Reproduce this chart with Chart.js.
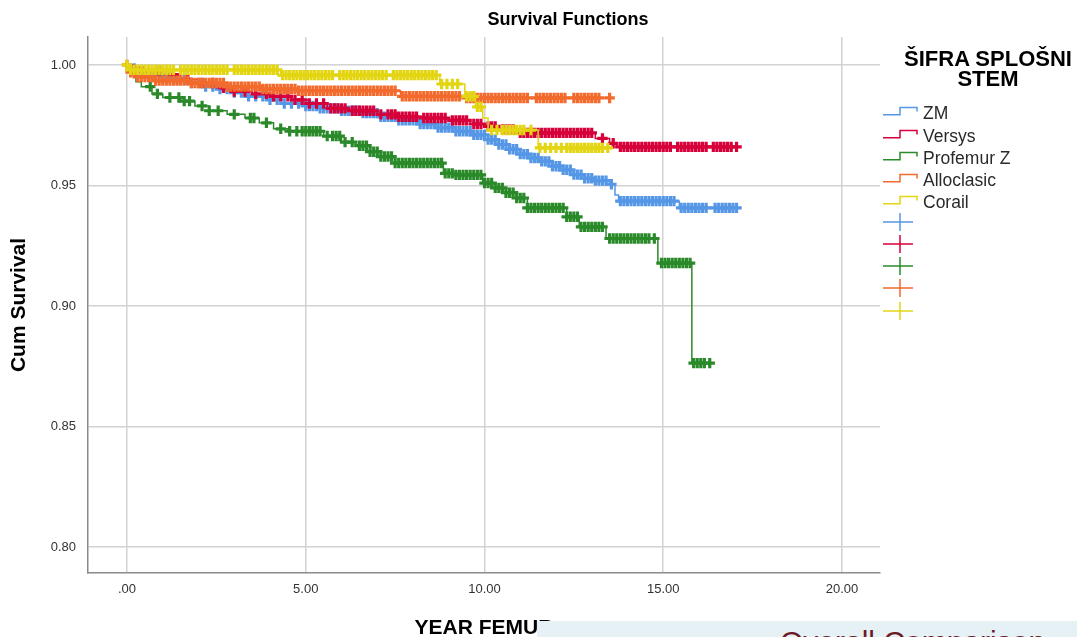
<!DOCTYPE html>
<html>
<head>
<meta charset="utf-8">
<script src="https://cdn.jsdelivr.net/npm/chart.js@4.4.1/dist/chart.umd.min.js"></script>
<style>
html,body{margin:0;padding:0;background:#fff;}
#wrap{position:relative;width:1077px;height:637px;overflow:hidden;font-family:"Liberation Sans",Arial,sans-serif;}
#chart{position:absolute;left:0;top:0;}
#legTitle{position:absolute;left:898px;top:49px;width:180px;text-align:center;font-weight:bold;font-size:22px;line-height:20px;color:#000;}
.row{position:absolute;left:883px;height:22px;width:190px;}
.row svg{position:absolute;left:0;top:0;}
.row span{position:absolute;left:40px;top:0;line-height:22px;font-size:17.5px;color:#2a2a2a;}
#overlay{position:absolute;left:537px;top:621px;width:540px;height:16px;background:#e6f1f5;overflow:hidden;}
#overlay span{position:absolute;left:243px;top:6px;font-size:30px;line-height:30px;color:#6e1a26;white-space:nowrap;}
</style>
</head>
<body>
<div id="wrap">
<canvas id="chart" width="1077" height="637"></canvas>
<div id="legTitle">ŠIFRA SPLOŠNI<br>STEM</div>
<div id="legend"></div>
<div id="overlay"><span>Overall Comparison</span></div>
</div>
<script>
// ---------- data ----------
const chartTitle = 'Survival Functions';
const xTitle = 'YEAR FEMUR';
const yTitle = 'Cum Survival';
const legendTitle = 'ŠIFRA SPLOŠNI STEM';
const groups = ['ZM', 'Versys', 'Profemur Z', 'Alloclasic', 'Corail'];
const colors = ['#5597e6', '#d6003a', '#2a8a2a', '#f26a2c', '#e3d512'];

const xTickValues = [0, 5, 10, 15, 20];
const xTickLabels = ['.00', '5.00', '10.00', '15.00', '20.00'];
const yTickValues = [0.80, 0.85, 0.90, 0.95, 1.00];
const yTickLabels = ['0.80', '0.85', '0.90', '0.95', '1.00'];

// ZM
const zmTime = [0, 0.15, 0.4, 0.7, 1.0, 1.4, 1.8, 2.2, 2.6, 3.0, 3.4, 3.9, 4.4, 4.9, 5.4, 6.0, 6.6, 7.1, 7.6, 8.2, 8.7, 9.2, 9.7, 10.1, 10.4, 10.7, 11.0, 11.3, 11.6, 11.9, 12.2, 12.5, 12.8, 13.1, 13.5, 13.65, 13.75, 15.45];
const zmSurv = [1.0, 0.9985, 0.997, 0.996, 0.995, 0.994, 0.9925, 0.991, 0.990, 0.9885, 0.987, 0.9855, 0.984, 0.983, 0.982, 0.981, 0.980, 0.9785, 0.977, 0.9755, 0.974, 0.9725, 0.971, 0.969, 0.967, 0.965, 0.963, 0.9614, 0.960, 0.958, 0.9565, 0.9545, 0.953, 0.952, 0.9505, 0.946, 0.9435, 0.9407];
const zmEnd = 17.05;
const zmCensor = [0.2, 0.4, 0.6, 0.8, 1.0, 1.2, 1.4, 1.6, 1.8, 2.0, 2.2, 2.4, 2.6, 2.8, 3.0, 3.2, 3.4, 3.6, 3.8, 4.0, 4.2, 4.4, 4.6, 4.8, 5.0, 5.1, 5.2, 5.3, 5.4, 5.5, 5.6, 5.7, 5.8, 5.9, 6.0, 6.1, 6.2, 6.3, 6.4, 6.5, 6.6, 6.7, 6.8, 6.9, 7.0, 7.1, 7.2, 7.3, 7.4, 7.5, 7.6, 7.7, 7.8, 7.9, 8.0, 8.1, 8.2, 8.3, 8.4, 8.5, 8.6, 8.7, 8.8, 8.9, 9.0, 9.1, 9.2, 9.3, 9.4, 9.5, 9.6, 9.7, 9.8, 9.9, 10.0, 10.1, 10.2, 10.3, 10.4, 10.5, 10.6, 10.7, 10.8, 10.9, 11.0, 11.1, 11.2, 11.3, 11.4, 11.5, 11.6, 11.7, 11.8, 11.9, 12.0, 12.1, 12.2, 12.3, 12.4, 12.5, 12.6, 12.7, 12.8, 12.9, 13.0, 13.1, 13.2, 13.3, 13.4, 13.55, 13.8, 13.9, 14.0, 14.1, 14.2, 14.3, 14.4, 14.5, 14.6, 14.7, 14.8, 14.9, 15.0, 15.1, 15.2, 15.3, 15.5, 15.6, 15.7, 15.8, 15.9, 16.0, 16.1, 16.2, 16.45, 16.55, 16.65, 16.75, 16.85, 16.95, 17.05];

// Versys
const vsTime = [0, 0.2, 0.5, 1.0, 1.5, 2.0, 2.5, 3.0, 3.5, 4.0, 4.6, 5.1, 5.6, 6.2, 7.0, 7.6, 8.3, 9.0, 9.6, 10.0, 10.4, 10.9, 13.1, 13.5, 13.7];
const vsSurv = [1.0, 0.999, 0.9975, 0.996, 0.994, 0.9925, 0.9905, 0.989, 0.988, 0.987, 0.9855, 0.984, 0.982, 0.981, 0.9795, 0.9785, 0.978, 0.977, 0.9755, 0.9745, 0.9732, 0.9718, 0.9695, 0.9675, 0.966];
const vsEnd = 17.05;
const vsCensor = [0.9, 1.3, 1.7, 2.1, 2.4, 2.7, 3.0, 3.3, 3.6, 3.9, 4.1, 4.3, 4.5, 4.7, 4.9, 5.1, 5.3, 5.5, 5.7, 5.8, 5.9, 6.0, 6.1, 6.3, 6.4, 6.5, 6.6, 6.7, 6.8, 6.9, 7.1, 7.3, 7.4, 7.5, 7.6, 7.7, 7.8, 7.9, 8.0, 8.1, 8.3, 8.4, 8.5, 8.6, 8.7, 8.8, 8.9, 9.1, 9.2, 9.3, 9.4, 9.5, 9.7, 9.8, 9.9, 10.1, 10.2, 10.3, 10.5, 10.6, 10.7, 10.8, 11.0, 11.1, 11.2, 11.3, 11.4, 11.5, 11.6, 11.7, 11.8, 11.9, 12.0, 12.1, 12.2, 12.3, 12.4, 12.5, 12.6, 12.7, 12.8, 12.9, 13.0, 13.3, 13.6, 13.8, 13.9, 14.0, 14.1, 14.2, 14.3, 14.4, 14.5, 14.6, 14.7, 14.8, 14.9, 15.0, 15.1, 15.2, 15.4, 15.5, 15.6, 15.7, 15.8, 15.9, 16.0, 16.1, 16.2, 16.4, 16.5, 16.6, 16.7, 16.8, 16.9, 17.05];

// Profemur Z
const pfTime = [0, 0.1, 0.25, 0.4, 0.7, 1.0, 1.5, 1.9, 2.3, 2.8, 3.3, 3.7, 4.1, 4.5, 5.5, 6.0, 6.4, 6.8, 7.1, 7.5, 8.85, 9.2, 9.95, 10.3, 10.6, 10.9, 11.2, 12.3, 12.65, 13.4, 14.85, 15.8];
const pfSurv = [1.0, 0.996, 0.993, 0.991, 0.988, 0.9865, 0.985, 0.983, 0.981, 0.9795, 0.978, 0.976, 0.9735, 0.9725, 0.9705, 0.968, 0.9665, 0.964, 0.962, 0.9593, 0.955, 0.9544, 0.951, 0.949, 0.947, 0.9448, 0.9407, 0.937, 0.9328, 0.928, 0.9178, 0.8763];
const pfEnd = 16.3;
const pfCensor = [0.65, 0.85, 1.2, 1.45, 1.6, 1.75, 2.1, 2.3, 2.55, 3.0, 3.45, 3.55, 3.9, 4.3, 4.55, 4.75, 4.9, 5.0, 5.1, 5.2, 5.3, 5.4, 5.6, 5.75, 5.85, 5.95, 6.1, 6.3, 6.5, 6.6, 6.7, 6.8, 6.9, 7.0, 7.1, 7.2, 7.3, 7.4, 7.5, 7.6, 7.7, 7.8, 7.9, 8.0, 8.1, 8.2, 8.3, 8.4, 8.5, 8.6, 8.7, 8.8, 8.9, 9.0, 9.1, 9.2, 9.3, 9.4, 9.5, 9.6, 9.7, 9.8, 9.9, 10.0, 10.1, 10.2, 10.3, 10.4, 10.5, 10.6, 10.7, 10.8, 10.9, 11.0, 11.1, 11.2, 11.3, 11.4, 11.5, 11.6, 11.7, 11.8, 11.9, 12.0, 12.1, 12.2, 12.3, 12.4, 12.5, 12.6, 12.7, 12.8, 12.9, 13.0, 13.1, 13.2, 13.3, 13.5, 13.6, 13.7, 13.8, 13.9, 14.0, 14.1, 14.2, 14.3, 14.4, 14.5, 14.6, 14.75, 14.95, 15.05, 15.15, 15.25, 15.35, 15.45, 15.55, 15.65, 15.75, 15.85, 15.95, 16.05, 16.15, 16.3];

// Alloclasic
const alTime = [0, 0.1, 0.3, 0.8, 1.8, 2.8, 3.8, 4.8, 7.65, 9.45];
const alSurv = [1.0, 0.997, 0.995, 0.9935, 0.9925, 0.991, 0.990, 0.9893, 0.987, 0.9863];
const alEnd = 13.5;
const alCensor = [0, 0.1, 0.2, 0.3, 0.4, 0.5, 0.6, 0.7, 0.8, 0.9, 1.0, 1.1, 1.2, 1.3, 1.4, 1.5, 1.6, 1.7, 1.8, 1.9, 2.0, 2.1, 2.2, 2.3, 2.4, 2.5, 2.6, 2.7, 2.8, 2.9, 3.0, 3.1, 3.2, 3.3, 3.4, 3.5, 3.6, 3.7, 3.8, 3.9, 4.0, 4.1, 4.2, 4.3, 4.4, 4.5, 4.6, 4.7, 4.8, 4.9, 5.0, 5.1, 5.2, 5.3, 5.4, 5.5, 5.6, 5.7, 5.8, 5.9, 6.0, 6.1, 6.2, 6.3, 6.4, 6.5, 6.6, 6.7, 6.8, 6.9, 7.0, 7.1, 7.2, 7.3, 7.4, 7.5, 7.7, 7.8, 7.9, 8.0, 8.1, 8.2, 8.3, 8.4, 8.5, 8.6, 8.7, 8.8, 8.9, 9.0, 9.1, 9.2, 9.3, 9.5, 9.6, 9.7, 9.8, 9.9, 10.0, 10.1, 10.2, 10.3, 10.4, 10.5, 10.6, 10.7, 10.8, 10.9, 11.0, 11.1, 11.2, 11.45, 11.55, 11.65, 11.75, 11.85, 11.95, 12.05, 12.15, 12.25, 12.5, 12.6, 12.7, 12.8, 12.9, 13.0, 13.1, 13.2, 13.5];

// Corail
const coTime = [0, 0.05, 4.3, 8.75, 9.45, 9.75, 9.95, 10.1, 11.5];
const coSurv = [1.0, 0.998, 0.9958, 0.9921, 0.987, 0.9826, 0.978, 0.973, 0.9656];
const coEnd = 13.45;
const coCensor = [0, 0.1, 0.2, 0.3, 0.4, 0.5, 0.6, 0.7, 0.8, 0.9, 1.0, 1.1, 1.2, 1.3, 1.5, 1.6, 1.7, 1.8, 1.9, 2.0, 2.1, 2.2, 2.3, 2.4, 2.5, 2.6, 2.7, 2.8, 3.0, 3.1, 3.2, 3.3, 3.4, 3.5, 3.6, 3.7, 3.8, 3.9, 4.0, 4.1, 4.2, 4.35, 4.45, 4.55, 4.65, 4.75, 4.85, 4.95, 5.05, 5.15, 5.25, 5.35, 5.45, 5.55, 5.65, 5.75, 5.95, 6.05, 6.15, 6.25, 6.35, 6.45, 6.55, 6.65, 6.75, 6.85, 6.95, 7.05, 7.15, 7.25, 7.45, 7.55, 7.65, 7.75, 7.85, 7.95, 8.05, 8.15, 8.25, 8.35, 8.45, 8.55, 8.65, 8.8, 8.95, 9.1, 9.25, 9.5, 9.6, 9.7, 9.8, 9.9, 10.2, 10.35, 10.5, 10.6, 10.7, 10.8, 10.9, 11.0, 11.1, 11.3, 11.55, 11.7, 11.85, 12.0, 12.15, 12.3, 12.4, 12.5, 12.6, 12.7, 12.8, 12.9, 13.0, 13.1, 13.2, 13.3, 13.45];

// ---------- build ----------
const series = [
  {t: zmTime, s: zmSurv, end: zmEnd, c: zmCensor},
  {t: vsTime, s: vsSurv, end: vsEnd, c: vsCensor},
  {t: pfTime, s: pfSurv, end: pfEnd, c: pfCensor},
  {t: alTime, s: alSurv, end: alEnd, c: alCensor},
  {t: coTime, s: coSurv, end: coEnd, c: coCensor}
];
// drawing order: lower number drawn on top
const drawOrder = [4, 3, 5, 2, 1];

function survAt(T, S, t) {
  let v = S[0];
  for (let i = 0; i < T.length; i++) { if (T[i] <= t) v = S[i]; else break; }
  return v;
}

const datasets = [];
series.forEach((g, k) => {
  const pts = g.t.map((t, i) => ({x: t, y: g.s[i]}));
  pts.push({x: g.end, y: g.s[g.s.length - 1]});
  datasets.push({
    type: 'line', label: groups[k], data: pts, stepped: true,
    borderColor: colors[k], borderWidth: 1.5, pointRadius: 0, fill: false,
    order: drawOrder[k] * 2 + 1
  });
  datasets.push({
    type: 'scatter', label: groups[k] + ' censored',
    data: g.c.map(t => ({x: t, y: survAt(g.t, g.s, t)})),
    pointStyle: 'cross', pointRadius: 5.2, borderWidth: 3.2,
    borderColor: colors[k], backgroundColor: colors[k],
    order: drawOrder[k] * 2
  });
});

const FONT = '"Liberation Sans", Arial, sans-serif';
Chart.defaults.font.family = FONT;

const titlePlugin = {
  id: 'mainTitle',
  afterDraw(chart) {
    const c = chart.ctx;
    c.save();
    c.font = 'bold 18px ' + FONT;
    c.fillStyle = '#000';
    c.textAlign = 'center';
    c.textBaseline = 'middle';
    c.fillText(chartTitle, 568, 20);
    c.restore();
  }
};

new Chart(document.getElementById('chart'), {
  type: 'scatter',
  data: {datasets},
  plugins: [titlePlugin],
  options: {
    responsive: false,
    animation: false,
    devicePixelRatio: 1,
    layout: {padding: {left: 0, right: 197, top: 37, bottom: 0}},
    plugins: {legend: {display: false}, tooltip: {enabled: false}, title: {display: false}},
    scales: {
      x: {
        type: 'linear', min: -1.091, max: 21.063,
        afterBuildTicks: s => { s.ticks = xTickValues.map(v => ({value: v})); },
        afterFit: s => { s.height = 64; },
        ticks: {callback: (v, i) => xTickLabels[i], font: {size: 13}, color: '#333', padding: 9, maxRotation: 0, autoSkip: false},
        grid: {color: '#d2d2d2', lineWidth: 1.5, drawTicks: false},
        border: {color: '#8a8a8a', width: 1.5},
        title: {display: true, text: xTitle, color: '#000', font: {size: 21, weight: 'bold', lineHeight: 1}, padding: {top: 0, bottom: -2}}
      },
      y: {
        type: 'linear', min: 0.7892, max: 1.0116,
        afterBuildTicks: s => { s.ticks = yTickValues.map(v => ({value: v})); },
        afterFit: s => { s.width = 88; },
        ticks: {callback: (v, i) => yTickLabels[i], font: {size: 13}, color: '#333', padding: 12, autoSkip: false},
        grid: {color: '#d2d2d2', lineWidth: 1.5, drawTicks: false},
        border: {color: '#8a8a8a', width: 1.5},
        title: {display: true, text: yTitle, color: '#000', font: {size: 21, weight: 'bold', lineHeight: 1}, padding: {top: 9, bottom: 0}}
      }
    }
  }
});

// ---------- legend (HTML) ----------
const legend = document.getElementById('legend');
const stepRows = [113, 136, 158, 180, 202];
const crossRows = [222, 244, 266, 288, 311];
groups.forEach((g, k) => {
  const r = document.createElement('div');
  r.className = 'row';
  r.style.top = (stepRows[k] - 11) + 'px';
  r.innerHTML = '<svg width="38" height="22"><path d="M0 12.7 H17 V5.4 H34 V9.4" fill="none" stroke="' + colors[k] + '" stroke-width="1.5"/></svg><span>' + g + '</span>';
  legend.appendChild(r);
});
groups.forEach((g, k) => {
  const r = document.createElement('div');
  r.className = 'row';
  r.style.top = (crossRows[k] - 11) + 'px';
  r.innerHTML = '<svg width="38" height="22"><path d="M0 11 H30 M17 2 V20" fill="none" stroke="' + colors[k] + '" stroke-width="1.5"/></svg>';
  legend.appendChild(r);
});
</script>
</body>
</html>
